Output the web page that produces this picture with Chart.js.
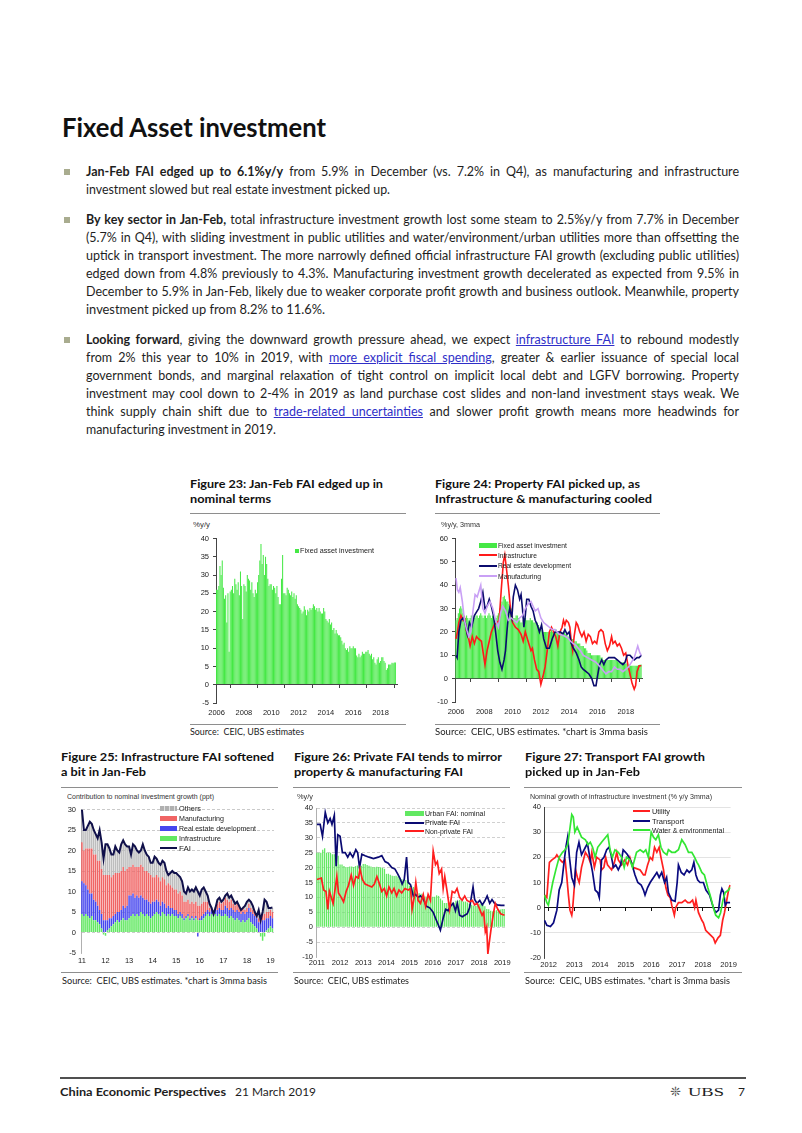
<!DOCTYPE html>
<html><head><meta charset="utf-8">
<script src="https://cdn.jsdelivr.net/npm/chart.js@4.4.1/dist/chart.umd.min.js"></script>
<style>
html,body{margin:0;padding:0;background:#fff;}
#page{position:relative;width:802px;height:1133px;overflow:hidden;font-family:Lato,"Open Sans",sans-serif;color:#1e1e1e;}
.t{position:absolute;white-space:nowrap;transform-origin:0 50%;}
.ln{position:absolute;left:86px;font-size:12.5px;line-height:18px;height:18px;white-space:nowrap;transform-origin:0 50%;}
.ln b{font-weight:700;}
.lk{color:#2f2fc8;text-decoration:underline;}
.bul{position:absolute;left:64px;width:6px;height:6px;background:#a9ac8f;}
.fh{font-size:12px;font-weight:700;line-height:16px;color:#111;}
.src{font-size:9px;line-height:12px;color:#222;}
.rule{position:absolute;height:1px;background:#8e8e8e;}
.ax{font-family:"Liberation Sans",Arial,sans-serif;font-size:7px;line-height:9px;color:#333;}
.lg{font-family:"Liberation Sans",Arial,sans-serif;font-size:7.5px;line-height:9px;color:#222;}
.sw{position:absolute;}
canvas{position:absolute;}
</style></head><body><div id="page">

<div class="t" data-w="264" style="left:62px;top:110px;font-size:27px;font-weight:700;line-height:34px;color:#111">Fixed Asset investment</div>

<div class="bul" style="top:169px"></div>
<div class="ln" data-w="653" data-j="1" style="top:163px"><b>Jan-Feb FAI edged up to 6.1%y/y</b> from 5.9% in December (vs. 7.2% in Q4), as manufacturing and infrastructure</div>
<div class="ln" data-w="304" style="top:181px">investment slowed but real estate investment picked up.</div>

<div class="bul" style="top:217px"></div>
<div class="ln" data-w="653" data-j="1" style="top:211px"><b>By key sector in Jan-Feb,</b> total infrastructure investment growth lost some steam to 2.5%y/y from 7.7% in December</div>
<div class="ln" data-w="653" data-j="1" style="top:229px">(5.7% in Q4), with sliding investment in public utilities and water/environment/urban utilities more than offsetting the</div>
<div class="ln" data-w="653" data-j="1" style="top:247px">uptick in transport investment. The more narrowly defined official infrastructure FAI growth (excluding public utilities)</div>
<div class="ln" data-w="653" data-j="1" style="top:265px">edged down from 4.8% previously to 4.3%. Manufacturing investment growth decelerated as expected from 9.5% in</div>
<div class="ln" data-w="653" data-j="1" style="top:283px">December to 5.9% in Jan-Feb, likely due to weaker corporate profit growth and business outlook. Meanwhile, property</div>
<div class="ln" data-w="239" style="top:301px">investment picked up from 8.2% to 11.6%.</div>

<div class="bul" style="top:337px"></div>
<div class="ln" data-w="653" data-j="1" style="top:331px"><b>Looking forward</b>, giving the downward growth pressure ahead, we expect <span class="lk">infrastructure FAI</span> to rebound modestly</div>
<div class="ln" data-w="653" data-j="1" style="top:349px">from 2% this year to 10% in 2019, with <span class="lk">more explicit fiscal spending</span>, greater &amp; earlier issuance of special local</div>
<div class="ln" data-w="653" data-j="1" style="top:367px">government bonds, and marginal relaxation of tight control on implicit local debt and LGFV borrowing. Property</div>
<div class="ln" data-w="653" data-j="1" style="top:385px">investment may cool down to 2-4% in 2019 as land purchase cost slides and non-land investment stays weak. We</div>
<div class="ln" data-w="653" data-j="1" style="top:403px">think supply chain shift due to <span class="lk">trade-related uncertainties</span> and slower profit growth means more headwinds for</div>
<div class="ln" data-w="190" style="top:421px">manufacturing investment in 2019.</div>

<!-- Figure 23 -->
<div class="t fh" data-w="193" style="left:190px;top:476px">Figure 23: Jan-Feb FAI edged up in</div>
<div class="t fh" data-w="81" style="left:190px;top:491px">nominal terms</div>
<div class="rule" style="left:190px;top:513px;width:216px"></div>
<div class="t ax" data-w="17" style="left:193px;top:519.5px">%y/y</div>
<canvas id="c23"></canvas>
<div class="sw" style="left:295px;top:549px;width:4px;height:4px;background:#45e845"></div>
<div class="t lg" data-w="74" style="left:299.5px;top:546.2px">Fixed asset investment</div>
<div class="rule" style="left:190px;top:724px;width:216px"></div>
<div class="t src" data-w="114" style="left:190px;top:725.5px">Source:&nbsp; CEIC, UBS estimates</div>

<!-- Figure 24 -->
<div class="t fh" data-w="205" style="left:435px;top:476px">Figure 24: Property FAI picked up, as</div>
<div class="t fh" data-w="217" style="left:435px;top:491px">Infrastructure &amp; manufacturing cooled</div>
<div class="rule" style="left:435px;top:513px;width:225px"></div>
<div class="t ax" data-w="39" style="left:441px;top:519.5px">%y/y, 3mma</div>
<canvas id="c24"></canvas>
<div class="sw" style="left:479px;top:543px;width:18px;height:5px;background:#45e845"></div>
<div class="sw" style="left:479px;top:554px;width:18px;height:2px;background:#ff1a1a"></div>
<div class="sw" style="left:479px;top:565px;width:18px;height:2px;background:#0b0b6e"></div>
<div class="sw" style="left:479px;top:575px;width:18px;height:2px;background:#c9a0f5"></div>
<div class="t lg" data-w="69" style="left:497.5px;top:540.5px">Fixed asset investment</div>
<div class="t lg" data-w="39" style="left:497.5px;top:550.8px">Infrastructure</div>
<div class="t lg" data-w="73" style="left:497.5px;top:561.2px">Real estate development</div>
<div class="t lg" data-w="43" style="left:497.5px;top:571.5px">Manufacturing</div>
<div class="rule" style="left:435px;top:724px;width:225px"></div>
<div class="t src" data-w="213" style="left:435px;top:725.5px">Source:&nbsp; CEIC, UBS estimates. *chart is 3mma basis</div>

<!-- Figure 25 -->
<div class="t fh" data-w="213" style="left:61px;top:749px">Figure 25: Infrastructure FAI softened</div>
<div class="t fh" data-w="85" style="left:61px;top:764px">a bit in Jan-Feb</div>
<div class="rule" style="left:61px;top:787px;width:217px"></div>
<div class="t ax" data-w="147" style="left:67px;top:792.2px">Contribution to nominal investment growth (ppt)</div>
<canvas id="c25"></canvas>
<div class="sw" style="left:160px;top:806px;width:17px;height:5px;background:repeating-linear-gradient(90deg,#b0b0b0 0 4px,#e0e0e0 4px 5px)"></div>
<div class="sw" style="left:160px;top:816px;width:17px;height:5px;background:#f06464"></div>
<div class="sw" style="left:160px;top:826px;width:17px;height:5px;background:#4646ee"></div>
<div class="sw" style="left:160px;top:836px;width:17px;height:5px;background:#62e862"></div>
<div class="sw" style="left:160px;top:847px;width:17px;height:2px;background:#10104a"></div>
<div class="t lg" data-w="22" style="left:178.5px;top:803.8px">Others</div>
<div class="t lg" data-w="45" style="left:178.5px;top:813.8px">Manufacturing</div>
<div class="t lg" data-w="77" style="left:178.5px;top:823.8px">Real estate development</div>
<div class="t lg" data-w="42" style="left:178.5px;top:833.8px">Infrastructure</div>
<div class="t lg" data-w="12" style="left:178.5px;top:843.8px">FAI</div>
<div class="rule" style="left:61px;top:972px;width:217px"></div>
<div class="t src" data-w="205" style="left:62px;top:975px">Source:&nbsp; CEIC, UBS estimates. *chart is 3mma basis</div>

<!-- Figure 26 -->
<div class="t fh" data-w="208" style="left:294px;top:749px">Figure 26: Private FAI tends to mirror</div>
<div class="t fh" data-w="169" style="left:294px;top:764px">property &amp; manufacturing FAI</div>
<div class="rule" style="left:293px;top:787px;width:217px"></div>
<div class="t ax" data-w="16" style="left:297px;top:792.2px">%y/y</div>
<canvas id="c26"></canvas>
<div class="sw" style="left:405px;top:811px;width:19px;height:5px;background:#62e862"></div>
<div class="sw" style="left:405px;top:822px;width:19px;height:2px;background:#0a0a72"></div>
<div class="sw" style="left:405px;top:830px;width:19px;height:2px;background:#ff1e1e"></div>
<div class="t lg" data-w="60" style="left:425px;top:808.5px">Urban FAI: nominal</div>
<div class="t lg" data-w="35" style="left:425px;top:818px">Private FAI</div>
<div class="t lg" data-w="48" style="left:425px;top:827px">Non-private FAI</div>
<div class="rule" style="left:293px;top:972px;width:217px"></div>
<div class="t src" data-w="115" style="left:294px;top:975px">Source:&nbsp; CEIC, UBS estimates</div>

<!-- Figure 27 -->
<div class="t fh" data-w="180" style="left:525px;top:749px">Figure 27: Transport FAI growth</div>
<div class="t fh" data-w="115" style="left:525px;top:764px">picked up in Jan-Feb</div>
<div class="rule" style="left:524px;top:787px;width:218px"></div>
<div class="t ax" data-w="182" style="left:530px;top:792.2px">Nominal growth of infrastructure investment (% y/y 3mma)</div>
<canvas id="c27"></canvas>
<div class="sw" style="left:633px;top:810px;width:17px;height:2px;background:#ff2020"></div>
<div class="sw" style="left:633px;top:820px;width:17px;height:2px;background:#0a0a80"></div>
<div class="sw" style="left:633px;top:829px;width:17px;height:2px;background:#33e633"></div>
<div class="t lg" data-w="18" style="left:651.5px;top:807.2px">Utility</div>
<div class="t lg" data-w="32" style="left:651.5px;top:816.5px">Transport</div>
<div class="t lg" data-w="72" style="left:651.5px;top:825.5px">Water &amp; environmental</div>
<div class="rule" style="left:524px;top:972px;width:218px"></div>
<div class="t src" data-w="205" style="left:525px;top:975px">Source:&nbsp; CEIC, UBS estimates. *chart is 3mma basis</div>

<!-- Footer -->
<div class="rule" style="left:60px;top:1077px;width:686px;height:1.5px;background:#505050"></div>
<div class="t" data-w="166" style="left:60px;top:1084px;font-size:12px;line-height:16px;font-weight:700">China Economic Perspectives</div>
<div class="t" data-w="81" style="left:235px;top:1084px;font-size:12px;line-height:16px">21 March 2019</div>
<div class="t" style="left:670px;top:1084px;font-size:13px;line-height:16px;font-family:'DejaVu Sans';color:#555">&#10058;</div>
<div class="t" data-w="36" style="left:688px;top:1084px;font-size:12px;line-height:16px;font-family:'Liberation Serif',serif">UBS</div>
<div class="t" style="left:738px;top:1084px;font-size:12px;line-height:16px">7</div>

</div>
<script>
// ---------------- DATA ----------------
// Figure 23: FAI y/y, monthly from Jan 2006
const start23 = 2006;
const fai23 = [
 26,26,27,32.5,30,34,26.5,23.5,24.5,17,25,9,
 25.5,26,27,25,29,27.5,26,28,24.5,31,27,18,
 27.5,27,25.5,30,29,28.5,26,28,25,24,26,25,
 28,30,34,38.5,33,35.5,30,35,33,29,27,27.5,
 27.5,26,27,26.5,25,27,24,22,22,29,35.5,25,
 25,24.5,26.5,26,25,24.5,25.5,24,25,23.5,24.5,22,
 21.5,21,20.5,19.5,20,21.5,20.5,19,20.5,20,21,20.5,
 21,22,21.5,20.5,21,20,21,20,19.5,19.5,21,20,
 18,17.5,17,18,16.5,17,15,15.5,14,15,14,13.5,
 13.5,13,12,11,11.5,10,9.5,10,9,10.5,10,10,
 10.5,10,10,8,7.5,8.5,7.5,8,9,8.5,8.5,9,
 9,9.5,8.5,8,8.5,7,7.5,6,5.5,7,7.5,6,
 6.5,7.5,7.5,6.5,6,4,4.5,5.5,5.5,5.5,6,5.9,
 6.1,6.1];
const years23 = [2006,2008,2010,2012,2014,2016,2018];

// Figure 24: 3mma, FAI bars monthly from Jan 2006; lines as [year, value]
const start24 = 2006;
const fai24 = [
 25,26,28,30,31,30,28,27,26,27,26,25,
 26,27,27,27,26,27,27,26,27,28,27,26,
 27,27,26,27,28,27,26,27,26,25,26,27,
 28,30,32,33,35,35.5,34,33,33,32,31,30,
 27,26,26,27,27,26,25,24,24,25,26,26,
 25,25,25,26,25,25,24,24,24,24,23,22,
 21,21,20,20,20,20,20,20,20,21,20,20,
 20,21,20,20,20,20,20,20,20,19,19,18,
 18,17,17,17,16,16,16,15,15,15,14,14,
 14,13,13,12,11,11,11,10,10,10,10,10,
 10,10,10,9,9,8,8,8,8,8,8,8,
 8,8,8,8,8,7.5,7,7,7,7,7,6.5,
 6.5,6.5,6,6,5.5,5.5,5.5,5.5,5.5,5.5,5.5,5.8,
 6,6.1];
const infra24 = [[2006.0,17],[2006.1,20],[2006.2,24],[2006.35,27],[2006.5,25],[2006.6,26],[2006.75,20],[2006.9,17],[2007.0,14],[2007.15,18],[2007.3,15],[2007.45,18],[2007.6,17],[2007.8,16],[2007.95,10],[2008.05,6],[2008.2,12],[2008.35,16],[2008.5,20],[2008.7,23],[2008.9,24],[2009.05,25],[2009.2,38],[2009.35,50],[2009.45,53],[2009.55,48],[2009.7,40],[2009.85,30],[2010.0,24],[2010.2,22],[2010.4,21],[2010.6,19],[2010.75,16],[2010.9,20],[2011.05,17],[2011.2,14],[2011.3,12],[2011.4,13],[2011.55,8],[2011.7,4],[2011.85,3],[2012.0,-2.5],[2012.15,1],[2012.3,5],[2012.45,12],[2012.6,20],[2012.75,22],[2012.9,20],[2013.05,18],[2013.2,14],[2013.35,20],[2013.5,22],[2013.6,25],[2013.7,23],[2013.8,25],[2013.95,24],[2014.05,22],[2014.15,16],[2014.25,12],[2014.35,18],[2014.5,24],[2014.6,23],[2014.75,20],[2014.9,18],[2015.05,20],[2015.2,16],[2015.35,19],[2015.5,18],[2015.65,15],[2015.8,16],[2015.95,15],[2016.1,20],[2016.25,21],[2016.4,20],[2016.55,15],[2016.7,12],[2016.85,14],[2017.0,18],[2017.1,15],[2017.25,16],[2017.4,14],[2017.55,15],[2017.7,13],[2017.85,10],[2018.0,11],[2018.15,6],[2018.3,2],[2018.45,-2],[2018.6,-4.5],[2018.7,-3],[2018.8,3],[2018.95,5.5],[2019.1,5.5]];
const realEstate24 = [[2006.0,10],[2006.08,9],[2006.2,20],[2006.35,25],[2006.5,26],[2006.65,24],[2006.8,19],[2006.95,24],[2007.1,22],[2007.3,27],[2007.5,29],[2007.6,30],[2007.75,33],[2007.9,37],[2008.05,30],[2008.2,31],[2008.35,34],[2008.5,31],[2008.65,27],[2008.8,20],[2008.95,12],[2009.1,7],[2009.25,4],[2009.4,8],[2009.5,12],[2009.6,20],[2009.7,27],[2009.8,30],[2009.95,26],[2010.05,35],[2010.2,40],[2010.35,38],[2010.5,34],[2010.6,36],[2010.7,30],[2010.8,22],[2010.9,27],[2011.0,34],[2011.15,34],[2011.3,31],[2011.45,29],[2011.6,25],[2011.75,23],[2011.9,20],[2012.05,23],[2012.2,17],[2012.4,13],[2012.6,13],[2012.8,17],[2013.0,20],[2013.2,20],[2013.4,20],[2013.55,19],[2013.7,21],[2013.85,19],[2014.0,20],[2014.15,15],[2014.3,13],[2014.5,11],[2014.7,8],[2014.85,5],[2015.0,4],[2015.2,3],[2015.4,2],[2015.6,0],[2015.75,-3],[2015.9,-3],[2016.0,1],[2016.15,6],[2016.3,8],[2016.45,6],[2016.6,8],[2016.8,9],[2017.0,9],[2017.2,9],[2017.4,8],[2017.6,7],[2017.8,6],[2017.95,7],[2018.1,10],[2018.3,10],[2018.45,9],[2018.6,8],[2018.8,9],[2018.95,9],[2019.1,10]];
const manuf24 = [[2006.0,43],[2006.1,38],[2006.2,37],[2006.3,39],[2006.45,33],[2006.6,25],[2006.75,21],[2006.9,18],[2007.05,20],[2007.2,29],[2007.35,36],[2007.5,35],[2007.6,37],[2007.75,40],[2007.9,30],[2008.05,28],[2008.2,31],[2008.4,33],[2008.6,30],[2008.8,25],[2009.0,22],[2009.15,28],[2009.3,31],[2009.5,29],[2009.7,25],[2009.9,26],[2010.1,25],[2010.3,24],[2010.5,26],[2010.7,27],[2010.9,30],[2011.1,32],[2011.3,33],[2011.45,31],[2011.6,29],[2011.8,30],[2012.0,26],[2012.2,24],[2012.4,23],[2012.6,22],[2012.8,21],[2013.0,21],[2013.3,19],[2013.6,18.5],[2013.9,17.5],[2014.1,16],[2014.3,15],[2014.5,14],[2014.8,12],[2015.0,10],[2015.3,9],[2015.6,8],[2015.9,7],[2016.05,6],[2016.2,5],[2016.4,3.5],[2016.6,2],[2016.8,3],[2017.0,3],[2017.2,5],[2017.4,4],[2017.6,4],[2017.8,3],[2018.0,4],[2018.2,5],[2018.4,7],[2018.6,9],[2018.75,12],[2018.85,14],[2019.0,11],[2019.1,10]];
const years24 = [2006,2008,2010,2012,2014,2016,2018];

// Figure 25: contributions (ppt), monthly from Jan 2011
const start25 = 2011;
const infra25 = [
 4.5,4,4.5,4,3.5,4,3,3,2.5,2,1,-0.5,
 -0.8,0.5,1,1.5,2,2.5,3,2.5,3,3.5,3,3,
 3.5,4,4.5,4,4.5,4,5,4.5,4,4.5,4,3.5,
 4,4.5,5,4.5,4,5,4.5,4,4.5,4,4.5,4,
 4,3.5,4,3.5,3,3.5,4,3,3.5,3,3.5,3,
 3,3,3.5,4,4.5,4,4.5,4,4.5,4,4.5,4,
 4,4.5,4,3.5,4,3.5,3,3.5,3,2.5,3,2.5,
 3,3.5,2.5,2,1.5,1,0,-1,-2,-1,0.5,1,
 1.5,1];
const realEstate25 = [
 8,8,7,6.5,6,5.5,5,4.5,4,3.5,3.5,3,
 3,2.5,2.5,2,2,2,2,2.5,2.5,3,3,3.5,
 5.5,5,5,4.5,4.5,4.5,4,4,4,3.5,3.5,3.5,
 3.5,3,3,3,2.5,2.5,2.5,2,2,2,1.5,1.5,
 1.5,1,1,1,0.5,0.5,0.5,0.5,0.5,0.5,0.5,-1,
 0.5,1,1,1,1,1,1,1,1,1.5,1.5,1.5,
 1.5,2,2,2,2,2,2,2,2,2,2,2,
 2,2.5,2.5,2.5,2.5,2.5,2.5,2.5,3,3,3,2.5,
 2.5,2.5];
const manuf25 = [
 9.5,8,9,10,11,11,11,11.5,11,12,11,11,
 11,11,10.5,10,10,10,9.5,9.5,9.5,9.5,9,9,
 7,7,7,7.5,7,7.5,7.5,7.5,7,7,7,7,
 6,6,6,6,6,6,6,5.5,5.5,5.5,5,5,
 5,5,5,4.5,4,3.5,3.5,3.5,3.5,3.5,3.5,3.5,
 3,3,3,2.5,2,1,0.5,0,0.5,1.5,1.5,1.5,
 2,2,2,2,2,1.5,1.5,1.5,1.5,1,1,1,
 1,1,1,1,1,1,1,1.5,1.5,1.5,1.5,1.5,
 1.5,1.5];
const others25 = [
 3,5,4.5,5.5,6.5,6,6,5,5.5,7.5,6.5,4,
 7.5,7.5,6.5,5.5,5,6.5,5.5,5,6.5,6.5,6.5,5.5,
 5,3,5,5,4,3.5,3.5,5.5,5,4,4,3,
 3.5,5,4,3.5,4,4,4,3.5,2,3,4,4,
 4,4.5,3.5,3.5,2.5,2,3,3,3,3,3.5,3.5,
 2.5,3.5,3.5,2.5,1.5,1,0.3,0.3,0.3,1,1,0.5,
 0.5,0.5,1.5,1,1,1,0.5,0.5,0.3,0.3,0.3,1,
 1.5,1,1.5,1,0.3,0.3,2,0.3,0.5,3.5,2.5,1,
 0.5,1];
const fai25 = [
 30,25,25,26,27,26.5,25,24,23,25,22,18,
 21.5,21.5,20.5,19,19,21,20,19.5,21.5,22.5,21.5,21,
 21,19,21.5,21,20,19.5,20,21.5,20,19,18.5,17,
 17,18.5,18,17,16.5,17.5,17,15,14,14.5,15,14.5,
 14.5,14,13.5,12.5,10,9.5,11,10,10.5,10,11,10,
 9,10.5,11,10,9,7,6,4.5,6,8,8.5,7.5,
 8,9,9.5,8.5,9,8,7,7.5,6.5,5.5,6,6.5,
 7.5,8,7.5,6.5,5,4,5.5,3,5,8,7.5,6,
 6,6.1];
const years25 = [2011,2012,2013,2014,2015,2016,2017,2018,2019]; // shown as '11'..'19'

// Figure 26: urban FAI bars monthly from Jan 2011; lines as [year, value]
const start26 = 2011;
const urban26 = [
 25,25,25,26,26.5,25,25,25,24.5,24.5,24,24,
 21,21,20.5,20.2,20.1,20.4,20.4,20.2,20.5,20.7,20.7,20.6,
 21.2,21.2,20.9,20.6,20.4,20.1,20.1,20.3,20.2,20.1,19.9,19.6,
 17.9,17.9,17.6,17.3,17.2,17.3,17,16.5,16.1,15.9,15.8,15.7,
 13.9,13.9,13.5,12,11.4,11.4,11.2,10.9,10.3,10.2,10.2,10,
 10.2,10.2,10.7,10.5,9.6,9,8.1,8.1,8.2,8.3,8.3,8.1,
 8.9,8.9,9.2,8.9,8.6,8.6,8.3,7.8,7.5,7.3,7.2,7.2,
 7.9,7.9,7.5,7,6.1,6,5.5,5.3,5.4,5.7,5.9,5.9,
 6.1,6.1];
const private26 = [[2011.00,34.5],[2011.14,34.5],[2011.24,30.5],[2011.36,38.5],[2011.47,35],[2011.57,36.5],[2011.65,34.5],[2011.75,37.5],[2011.83,20.5],[2011.90,31],[2012.00,30.5],[2012.10,25],[2012.22,25],[2012.33,23.5],[2012.43,25],[2012.55,23.5],[2012.68,26],[2012.76,25],[2012.84,20],[2012.94,24.5],[2013.08,24],[2013.25,23.5],[2013.44,23],[2013.65,23.5],[2013.80,24],[2013.94,22],[2014.08,21.5],[2014.23,20],[2014.37,19.5],[2014.48,18],[2014.58,16.5],[2014.68,14.5],[2014.77,16],[2014.87,23.5],[2014.94,15],[2015.04,14.3],[2015.16,10.5],[2015.26,11],[2015.37,10],[2015.47,10.5],[2015.59,9.5],[2015.73,7],[2015.87,6.5],[2016.02,5],[2016.12,3],[2016.23,1],[2016.33,-1],[2016.45,3],[2016.56,6],[2016.66,5.5],[2016.76,7],[2016.88,8],[2016.98,5.5],[2017.06,8],[2017.16,4],[2017.28,3.5],[2017.38,4],[2017.49,4.5],[2017.59,6.5],[2017.74,13.5],[2017.81,9.3],[2017.91,8],[2018.03,9],[2018.14,7.5],[2018.24,8.7],[2018.35,10.5],[2018.46,8],[2018.56,9.3],[2018.67,8],[2018.78,7.5],[2018.95,7.3],[2019.10,7.3]];
const nonPrivate26 = [[2011.00,16],[2011.19,16.5],[2011.29,12.5],[2011.39,12],[2011.47,6],[2011.54,12],[2011.62,10],[2011.70,8],[2011.79,13],[2011.86,17],[2011.93,11.5],[2012.05,10],[2012.15,8.5],[2012.26,12],[2012.36,14],[2012.48,17.5],[2012.58,14],[2012.68,17],[2012.79,16.5],[2012.86,19.5],[2012.96,16],[2013.08,14.5],[2013.22,14],[2013.37,13.5],[2013.48,14.5],[2013.59,17],[2013.68,15],[2013.80,12],[2013.91,13],[2014.01,10.5],[2014.11,13.5],[2014.23,11.5],[2014.33,13],[2014.44,10.5],[2014.54,12.5],[2014.66,11.5],[2014.80,13],[2014.94,12.5],[2015.04,13],[2015.11,6],[2015.20,10],[2015.27,15],[2015.37,9],[2015.47,8],[2015.59,11],[2015.69,7],[2015.80,11],[2015.90,9],[2016.02,25.5],[2016.12,21],[2016.20,22],[2016.28,18],[2016.38,19.5],[2016.45,13],[2016.52,17],[2016.62,12],[2016.73,6],[2016.84,12],[2016.95,11.5],[2017.05,13],[2017.16,10],[2017.27,9],[2017.38,10.5],[2017.48,9],[2017.59,8.5],[2017.71,9],[2017.81,7.5],[2017.92,8],[2018.03,6],[2018.13,4],[2018.20,5],[2018.27,-1.5],[2018.33,0],[2018.38,-9],[2018.46,-4],[2018.53,0],[2018.63,5],[2018.70,8],[2018.81,6],[2018.93,4.5],[2019.10,4]];
const years26 = [2011,2012,2013,2014,2015,2016,2017,2018,2019];

// Figure 27: infrastructure sub-sectors, % y/y 3mma, [year, value]
const utility27 = [[2011.84,5],[2011.93,4],[2012.03,18],[2012.13,19],[2012.26,20],[2012.32,21],[2012.45,19],[2012.54,18],[2012.64,19],[2012.70,13],[2012.77,5],[2012.83,-1],[2012.90,-3],[2012.93,-1],[2013.05,15],[2013.12,12],[2013.19,10],[2013.28,16],[2013.43,22],[2013.55,20],[2013.62,18],[2013.68,22],[2013.78,16],[2013.87,20],[2014.00,19],[2014.06,15],[2014.15,16],[2014.22,20],[2014.29,17],[2014.45,15],[2014.56,18],[2014.65,22],[2014.71,19],[2014.84,17],[2014.96,19],[2015.07,17],[2015.16,20],[2015.28,16],[2015.42,15.5],[2015.56,15],[2015.69,13],[2015.75,13],[2015.85,17],[2015.95,20],[2016.04,19],[2016.12,24],[2016.21,22],[2016.30,24],[2016.37,20],[2016.47,15],[2016.56,8],[2016.64,5],[2016.73,4],[2016.79,1],[2016.89,-3],[2016.94,0],[2017.05,2],[2017.18,2],[2017.31,3],[2017.41,2],[2017.50,2],[2017.60,3],[2017.68,0],[2017.73,3],[2017.83,-2],[2017.96,-5],[2018.02,-6],[2018.11,-9],[2018.21,-10],[2018.31,-11],[2018.41,-12],[2018.48,-14],[2018.59,-12],[2018.68,-11],[2018.77,-5],[2018.84,-2],[2018.93,3],[2019.00,7],[2019.06,9]];
const transport27 = [[2011.84,-5],[2011.93,-7],[2012.07,-7.5],[2012.19,-6],[2012.32,-1],[2012.41,7],[2012.51,10],[2012.60,18],[2012.67,24],[2012.74,28],[2012.81,20],[2012.90,12],[2013.00,9],[2013.09,22],[2013.18,26],[2013.28,21],[2013.43,24],[2013.51,25.5],[2013.62,19],[2013.71,14],[2013.81,7],[2013.91,6],[2013.97,4],[2014.06,19],[2014.15,20],[2014.26,23],[2014.35,24],[2014.43,21],[2014.52,16],[2014.61,17],[2014.71,15],[2014.80,17],[2014.90,23],[2014.99,22],[2015.07,21],[2015.22,18],[2015.36,13],[2015.47,10],[2015.60,9],[2015.69,7],[2015.75,5],[2015.85,8],[2015.95,10],[2016.08,12],[2016.21,14],[2016.30,12],[2016.40,14],[2016.51,10],[2016.59,12],[2016.66,6],[2016.79,3],[2016.92,2.5],[2017.00,10],[2017.05,17],[2017.16,14],[2017.27,13],[2017.38,15],[2017.47,14],[2017.57,15],[2017.65,18],[2017.73,13],[2017.80,11],[2017.89,10],[2018.02,10],[2018.12,7],[2018.26,5],[2018.41,0],[2018.50,-2],[2018.61,-1],[2018.68,5],[2018.74,7.5],[2018.81,6],[2018.87,1],[2018.93,2],[2019.06,2]];
const water27 = [[2011.84,5],[2011.93,2],[2011.99,1],[2012.16,10],[2012.28,15],[2012.41,20],[2012.54,22],[2012.64,23],[2012.74,25],[2012.81,30],[2012.90,37],[2012.96,36],[2013.02,30],[2013.11,32],[2013.28,28],[2013.43,27],[2013.53,25],[2013.62,26],[2013.71,24],[2013.81,20],[2013.91,24],[2014.06,26],[2014.30,29],[2014.39,23],[2014.48,20],[2014.58,23],[2014.71,22],[2014.84,20],[2014.94,16],[2015.03,20],[2015.16,19],[2015.26,16],[2015.42,22],[2015.56,23],[2015.69,22],[2015.78,23],[2015.88,20],[2015.99,30],[2016.08,28],[2016.17,27],[2016.27,29],[2016.37,24],[2016.47,22],[2016.60,21],[2016.66,23],[2016.79,22],[2016.92,22],[2017.05,23],[2017.18,27],[2017.31,25],[2017.44,22],[2017.57,22],[2017.68,20],[2017.77,18],[2017.83,17],[2017.96,14],[2018.06,13],[2018.19,8],[2018.28,5],[2018.41,0],[2018.50,-3],[2018.61,-4],[2018.69,-2],[2018.78,3],[2018.87,6],[2019.00,7],[2019.06,8]];
const years27 = [2012,2013,2014,2015,2016,2017,2018,2019];

// ---------------- TEXT FITTING ----------------
function fitAll(){
  document.querySelectorAll('[data-w]').forEach(el=>{
    const target = +el.dataset.w;
    el.style.transform=''; el.style.width='auto'; el.style.whiteSpace='nowrap';
    el.style.textAlign=''; el.style.textAlignLast='';
    const nat = el.getBoundingClientRect().width;
    if(!nat) return;
    if(el.dataset.j && nat <= target - 0.5){
      el.style.width = target+'px'; el.style.whiteSpace='normal';
      el.style.textAlign='justify'; el.style.textAlignLast='justify';
    } else {
      el.style.transform = 'scaleX('+(target/nat)+')';
    }
  });
}
fitAll();
if(document.fonts && document.fonts.ready){ document.fonts.ready.then(fitAll); }

// ---------------- CHARTS ----------------
Chart.defaults.font.family = '"Liberation Sans", Arial, sans-serif';
Chart.defaults.font.size = 7.5;
Chart.defaults.color = '#222';
const TICK_FONT = {size:7.5, lineHeight:1.2};

const monthly = (start, vals) => vals.map((v,i)=>({x: start + i/12, y: v}));
const pts = arr => arr.map(p=>({x:p[0], y:p[1]}));

// Create the chart so that its plot area lands on rectangle A (page pixels).
function build(id, A, yW, cfgFn){
  const c = document.getElementById(id);
  const P = {left:2, top:8, right:8, bottom:2};
  const L = A.l - yW - P.left, T = A.t - P.top, W = A.r + P.right - L;
  let H = A.b + 24 - T, chart = null;
  for(let k=0; k<4; k++){
    c.width = W; c.height = H;
    c.style.left = L+'px'; c.style.top = T+'px'; c.style.width = W+'px'; c.style.height = H+'px';
    chart = new Chart(c, cfgFn(P));
    const d = (A.b - T) - chart.chartArea.bottom;
    if(Math.abs(d) < 0.5) break;
    chart.destroy(); H = Math.round(H + d);
  }
  return chart;
}

function makeOpts(o){
  const yearTicks = s => { s.ticks = o.years.map(v=>({value:v})); };
  const scales = {
    x:{type:'linear', display:true, min:o.xmin, max:o.xmax, offset:false, stacked:!!o.stacked, position:'bottom',
       afterBuildTicks: yearTicks,
       grid:{display:true, drawOnChartArea:false, drawTicks:false, color:'rgba(0,0,0,0)'},
       border:{display:false},
       ticks:{display:true, autoSkip:false, maxRotation:0, minRotation:0, padding:o.xPad, color:'#222', font:TICK_FONT,
              callback: function(v){ return o.xfmt(v); }}},
    y:{type:'linear', min:o.ymin, max:o.ymax, stacked:!!o.stacked,
       ticks:{stepSize:o.ystep, padding:o.yPad, autoSkip:false, color:'#222', font:TICK_FONT},
       grid:o.yGrid, border:o.yBorder,
       afterFit: s => { s.width = o.yW; }}
  };
  if(o.zero){
    scales.xz = {type:'linear', axis:'x', min:o.xmin, max:o.xmax, offset:false, position:{y:0},
       afterBuildTicks: yearTicks,
       grid:{drawOnChartArea:false, drawTicks:true, tickLength:3, color:o.zeroColor||'#444'},
       border:{display:true, color:o.zeroColor||'#444', width:1, z:o.zeroZ||0},
       ticks:{display:false, autoSkip:false}};
  }
  return {
    responsive:false, maintainAspectRatio:false, animation:false, devicePixelRatio:1,
    layout:{padding:o.P},
    plugins:{legend:{display:false}, tooltip:{enabled:false}},
    scales
  };
}

// Figure 23
build('c23', {l:216,t:538,r:397,b:703}, 30, P => ({
  type:'bar',
  data:{datasets:[
    {label:'Fixed asset investment', data:monthly(start23,fai23), backgroundColor:'#45e845',
     barPercentage:0.9, categoryPercentage:1, xAxisID:'x', yAxisID:'y'}
  ]},
  options: makeOpts({P, xmin:2005.96, xmax:2019.2, years:years23, xfmt:v=>String(v), zero:true, zeroZ:1,
    xPad:5, yW:30, ymin:-5, ymax:40, ystep:5, yPad:4,
    yGrid:{drawOnChartArea:false, drawTicks:true, tickLength:3, color:'#444'}, yBorder:{color:'#444'}})
}));

// Figure 24
build('c24', {l:455,t:538,r:642,b:702}, 30, P => {
  const L = {type:'line', pointRadius:0, borderWidth:1.6, tension:0, xAxisID:'x', yAxisID:'y', fill:false};
  return {
    type:'bar',
    data:{datasets:[
      {label:'Fixed asset investment', data:monthly(start24,fai24), backgroundColor:'#45e845',
       barPercentage:0.9, categoryPercentage:1, xAxisID:'x', yAxisID:'y', order:4},
      Object.assign({label:'Infrastructure', data:pts(infra24), borderColor:'#ff1a1a', order:3}, L),
      Object.assign({label:'Real estate development', data:pts(realEstate24), borderColor:'#0b0b6e', order:2}, L),
      Object.assign({label:'Manufacturing', data:pts(manuf24), borderColor:'#c9a0f5', order:1}, L)
    ]},
    options: makeOpts({P, xmin:2005.93, xmax:2019.15, years:years24, xfmt:v=>String(v), zero:true, zeroZ:0,
      xPad:5, yW:30, ymin:-10, ymax:60, ystep:10, yPad:4,
      yGrid:{drawOnChartArea:false, drawTicks:true, tickLength:3, color:'#444'}, yBorder:{color:'#444'}})
  };
});

// Figure 25
build('c25', {l:81,t:808,r:274,b:953}, 30, P => {
  const B = {barPercentage:0.75, categoryPercentage:1, xAxisID:'x', yAxisID:'y', stack:'s', order:1};
  return {
    type:'bar',
    data:{datasets:[
      Object.assign({label:'Infrastructure', data:monthly(start25,infra25), backgroundColor:'#62e862'}, B),
      Object.assign({label:'Real estate development', data:monthly(start25,realEstate25), backgroundColor:'#4646ee'}, B),
      Object.assign({label:'Manufacturing', data:monthly(start25,manuf25), backgroundColor:'#f06464'}, B),
      Object.assign({label:'Others', data:monthly(start25,others25), backgroundColor:'#bdbdbd'}, B),
      {type:'line', label:'FAI', data:monthly(start25,fai25), borderColor:'#10104a', borderWidth:2,
       pointRadius:0, tension:0, xAxisID:'x', yAxisID:'y', stack:'line', order:-1}
    ]},
    options: makeOpts({P, xmin:2010.96, xmax:2019.15, years:years25, xfmt:v=>String(v).slice(2), zero:false, stacked:true,
      xPad:3, yW:30, ymin:-5, ymax:30, ystep:5, yPad:5,
      yGrid:{drawTicks:false, lineWidth:0.8, color: ctx => (ctx.tick && ctx.tick.value===-5) ? 'rgba(0,0,0,0)' : '#bdbdbd'},
      yBorder:{color:'#b0b0b0', dash:[3,2]}})
  };
});

// Figure 26
build('c26', {l:316,t:808,r:505,b:957}, 30, P => {
  const L = {type:'line', pointRadius:0, borderWidth:1.7, tension:0, xAxisID:'x', yAxisID:'y', fill:false};
  return {
    type:'bar',
    data:{datasets:[
      {label:'Urban FAI: nominal', data:monthly(start26,urban26), backgroundColor:'#62e862',
       barPercentage:0.65, categoryPercentage:1, xAxisID:'x', yAxisID:'y', order:3},
      Object.assign({label:'Private FAI', data:pts(private26), borderColor:'#0a0a72', order:2}, L),
      Object.assign({label:'Non-private FAI', data:pts(nonPrivate26), borderColor:'#ff1e1e', order:1}, L)
    ]},
    options: makeOpts({P, xmin:2010.96, xmax:2019.12, years:years26, xfmt:v=>String(v), zero:false,
      xPad:1, yW:30, ymin:-10, ymax:40, ystep:5, yPad:3,
      yGrid:{drawTicks:false, lineWidth:0.8, color: ctx => (ctx.tick && ctx.tick.value===-10) ? 'rgba(0,0,0,0)' : '#c4c4c4'},
      yBorder:{color:'#b0b0b0', dash:[3,2]}})
  };
});

// Figure 27
build('c27', {l:544,t:807,r:731,b:958}, 30, P => {
  const L = {pointRadius:0, borderWidth:1.7, tension:0, xAxisID:'x', yAxisID:'y', fill:false};
  return {
    type:'line',
    data:{datasets:[
      Object.assign({label:'Utility', data:pts(utility27), borderColor:'#ff2020', order:3}, L),
      Object.assign({label:'Transport', data:pts(transport27), borderColor:'#0a0a80', order:2}, L),
      Object.assign({label:'Water & environmental', data:pts(water27), borderColor:'#33e633', order:1}, L)
    ]},
    options: makeOpts({P, xmin:2011.82, xmax:2019.08, years:years27, xfmt:v=>String(v), zero:true, zeroColor:'#111',
      xPad:2, yW:30, ymin:-20, ymax:40, ystep:10, yPad:3,
      yGrid:{drawTicks:false, lineWidth:0.8, color: ctx => (ctx.tick && (ctx.tick.value===0 || ctx.tick.value===-20)) ? 'rgba(0,0,0,0)' : '#dcdcdc'},
      yBorder:{color:'#444'}})
  };
});
</script>
</body></html>
